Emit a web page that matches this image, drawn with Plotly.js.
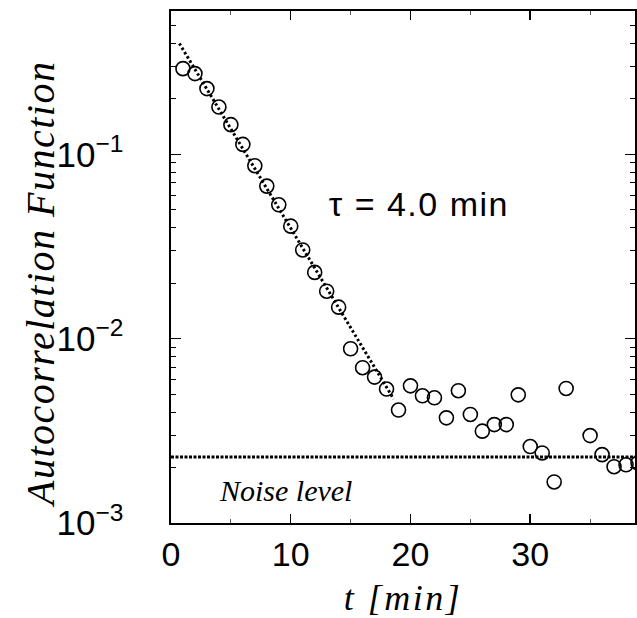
<!DOCTYPE html>
<html>
<head>
<meta charset="utf-8">
<script src="https://cdn.plot.ly/plotly-3.0.1.min.js"></script>
<style>
  html, body { margin: 0; padding: 0; background: #fff; }
  #chart { width: 637px; height: 618px; }
  .xtitle { letter-spacing: 2.5px; }
  .annotation[data-index="0"] .annotation-text { letter-spacing: 1.5px; }
  .annotation[data-index="1"] .annotation-text { letter-spacing: 1.5px; }
</style>
</head>
<body>
<div id="chart"></div>
<script>
// Measured autocorrelation values
const tMin = [1, 2, 3, 4, 5, 6, 7, 8, 9, 10, 11, 12, 13, 14, 15, 16, 17, 18, 19, 20,
              21, 22, 23, 24, 25, 26, 27, 28, 29, 30, 31, 32, 33, 35, 36, 37, 38, 39];
const acf = [0.292, 0.2745, 0.2276, 0.1807, 0.145, 0.1133, 0.0868, 0.0673, 0.0533, 0.0408,
             0.0303, 0.0229, 0.0181, 0.01483, 0.00882, 0.00696, 0.00619, 0.00533, 0.0041, 0.00555,
             0.0049, 0.00478, 0.00372, 0.00522, 0.00388, 0.00315, 0.00342, 0.00342, 0.00496, 0.0026,
             0.0024, 0.00167, 0.00537, 0.00298, 0.00235, 0.00202, 0.00207, 0.00212];

// Exponential fit (tau = 4.0 min), drawn between its two end points
const fitT = [0.7, 18.6];
const fitY = [0.40, 0.0047];

// Noise level
const noiseT = [0, 40];
const noiseY = [0.00228, 0.00228];

const tauLabel = "τ = 4.0 min";
const noiseLabel = "Noise level";
const yTitle = "Autocorrelation Function";
const xTitle = "t [min]";

const serif = "Liberation Serif, Times New Roman, serif";
const sans = "Liberation Sans, Arial, Helvetica, sans-serif";

const traces = [
  {
    x: noiseT, y: noiseY, mode: "lines", type: "scatter",
    line: { color: "#000", width: 3, dash: "3px,1.5px" }, hoverinfo: "skip"
  },
  {
    x: fitT, y: fitY, mode: "lines", type: "scatter",
    line: { color: "#000", width: 3, dash: "2.5px,2.5px" }, hoverinfo: "skip"
  },
  {
    x: tMin, y: acf, mode: "markers", type: "scatter",
    marker: { symbol: "circle-open", size: 14, color: "#000", line: { width: 1.6, color: "#000" } }
  }
];

const layout = {
  width: 637, height: 618,
  margin: { l: 171, r: 2, t: 11, b: 95 },
  paper_bgcolor: "#fff", plot_bgcolor: "#fff",
  showlegend: false,
  xaxis: {
    range: [0, 38.75],
    tickmode: "linear", tick0: 0, dtick: 10,
    ticks: "inside", ticklen: 9, tickwidth: 1.5, tickcolor: "#000",
    minor: { dtick: 5, ticks: "inside", ticklen: 4, tickwidth: 1, tickcolor: "#555" },
    showline: true, linewidth: 2, linecolor: "#000", mirror: "allticks",
    showgrid: false, zeroline: false,
    tickfont: { family: sans, size: 34, color: "#000" },
    title: { text: xTitle, font: { family: serif, size: 36, color: "#000", style: "italic" }, standoff: 21 }
  },
  yaxis: {
    type: "log",
    range: [-3, Math.log10(0.6)],
    tickmode: "linear", tick0: 0, dtick: 1,
    exponentformat: "power",
    ticks: "inside", ticklen: 10, tickwidth: 1.5, tickcolor: "#000",
    minor: { dtick: "D1", ticks: "inside", ticklen: 5, tickwidth: 1, tickcolor: "#000" },
    showline: true, linewidth: 2, linecolor: "#000", mirror: "allticks",
    showgrid: false, zeroline: false,
    ticklabelstandoff: 40,
    tickfont: { family: sans, size: 28, color: "#000" }
  },
  annotations: [
    {
      text: yTitle, textangle: -90, showarrow: false,
      xref: "paper", yref: "paper", x: (40 - 171) / 464, y: (523 - 285) / 512,
      xanchor: "center", yanchor: "middle",
      font: { family: serif, size: 40, color: "#000", style: "italic" }
    },
    {
      text: tauLabel, showarrow: false,
      xref: "x", yref: "y", x: 20.75, y: -1.27,
      xanchor: "center", yanchor: "middle",
      font: { family: sans, size: 34, color: "#000" }
    },
    {
      text: noiseLabel, showarrow: false,
      xref: "x", yref: "y", x: 9.57, y: -2.821,
      xanchor: "center", yanchor: "middle",
      font: { family: serif, size: 30, color: "#000", style: "italic" }
    }
  ]
};

Plotly.newPlot("chart", traces, layout, { displayModeBar: false, staticPlot: true });
</script>
</body>
</html>
